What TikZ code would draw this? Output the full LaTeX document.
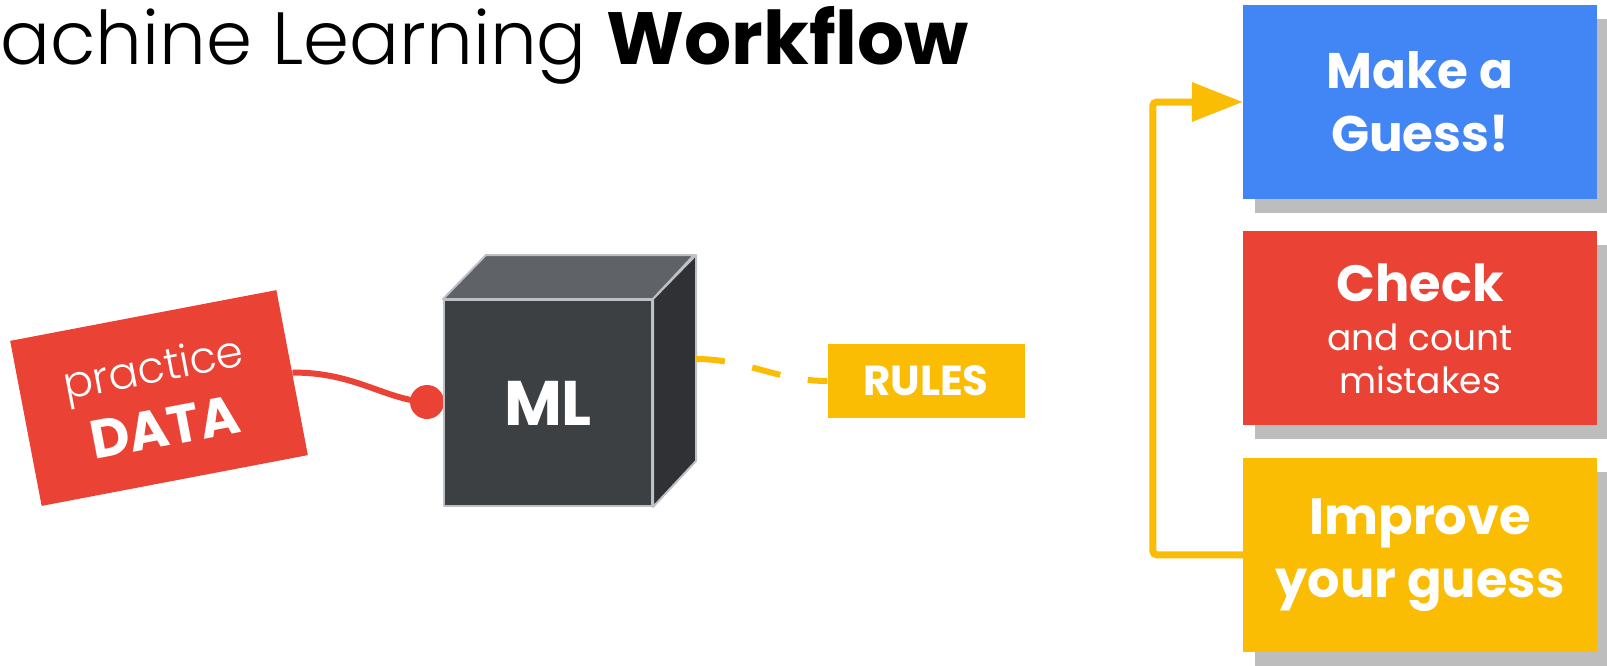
\documentclass[tikz,border=0pt]{standalone}
\usepackage{fontspec}
\setmainfont{Poppins}
\newfontfamily\lightfont{Poppins Light}
\usetikzlibrary{positioning,arrows.meta,shadows}

\definecolor{gblue}{HTML}{4285F4}
\definecolor{gred}{HTML}{EA4335}
\definecolor{gyellow}{HTML}{FBBC04}
\definecolor{cubefront}{HTML}{3C4043}
\definecolor{cubetop}{HTML}{5F6368}
\definecolor{cubeside}{HTML}{303134}
\definecolor{cubeedge}{HTML}{BDC1C6}
\definecolor{boxshadow}{HTML}{BDBDBD}

\tikzset{
  stepbox/.style={rectangle, minimum width=354pt, minimum height=194pt, inner sep=0pt,
    align=center, text=white,
    drop shadow={shadow xshift=12pt, shadow yshift=-14pt, fill=boxshadow, opacity=1}},
  cubeface/.style={draw=cubeedge, line width=2pt, line join=round},
}

\begin{document}
\begin{tikzpicture}[x=1pt, y=-1pt]
    \useasboundingbox (0,0) rectangle (1607,665);

    \node[anchor=base west, inner sep=0pt, font=\fontsize{74}{74}\selectfont] (title) at (0,64) {{\lightfont achine Learning} \textbf{Workflow}};

    \node[rectangle, fill=gred, rotate=10.8, minimum width=271pt, minimum height=168pt, inner sep=0pt, align=center, text=white, font=\fontsize{44}{64}\selectfont] (data) at (159,398) {{\lightfont practice}\\{\bfseries\fontsize{54}{54}\selectfont DATA}};
    \draw[gred, line width=6pt] (data.east) .. controls (355,372) and (385,400) .. (427,402);
    \node[circle, fill=gred, minimum size=34pt, inner sep=0pt] (plug) at (427,402) {};

    \node[rectangle, fill=cubefront, cubeface, minimum width=208pt, minimum height=206pt, inner sep=0pt, text=white, font=\bfseries\fontsize{63}{63}\selectfont] (ml) at (548,403) {ML};
    \filldraw[cubeface, fill=cubetop] (ml.north west) -- ++(43,-44) -- ++(208,0) -- (ml.north east) -- cycle;
    \filldraw[cubeface, fill=cubeside] (ml.north east) -- ++(43,-44) -- ++(0,206) -- (ml.south east) -- cycle;
    \coordinate (mlback) at ([shift={(43,-44)}]ml.east);

    \node[rectangle, fill=gyellow, minimum width=197pt, minimum height=74pt, inner sep=0pt, text=white, font=\bfseries\fontsize{42}{42}\selectfont] (rules) at (926,381) {RULES};
    \draw[gyellow, line width=6pt, dash pattern=on 29pt off 28pt] (mlback) .. controls +(50,0) and +(-50,0) .. (rules.west);

    \node[stepbox, fill=gblue, font=\bfseries\fontsize{50}{63}\selectfont] (guess) at (1420,102) {Make a\\Guess!};
    \node[stepbox, fill=gred, font=\fontsize{36}{43}\selectfont, below=32pt of guess] (check) {{\bfseries\fontsize{51}{51}\selectfont Check}\\[6pt]and count\\mistakes};
    \node[stepbox, fill=gyellow, font=\bfseries\fontsize{51}{63}\selectfont, below=32pt of check] (improve) {Improve\\your guess};

    \draw[gyellow, line width=7pt, rounded corners=4pt, -{Triangle[length=51pt, width=38pt]}] (improve.west) -- ++(-90,0) |- (guess.west);
\end{tikzpicture}
\end{document}
